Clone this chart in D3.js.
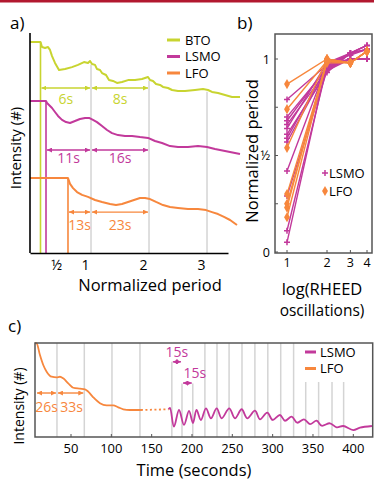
<!DOCTYPE html>
<html>
<head>
<meta charset="utf-8">
<script src="https://cdn.jsdelivr.net/npm/d3@7/dist/d3.min.js"></script>
<style>
  body { margin: 0; background: #fff; }
  svg { font-family: "Open Sans", sans-serif; display: block; }
</style>
</head>
<body>
<svg id="fig" width="374" height="481"></svg>
<script>
// ---- colours ----
var C_BTO = "#c8d430", C_LSMO = "#c2399b", C_LFO = "#f7873d", C_GRID = "#d4d4d4", C_BOX = "#555";

// ---- a) RHEED intensity vs normalized period ----
var btoPeriod    = [-0.052, 0.129, 0.155, 0.207, 0.259, 0.293, 0.328, 0.379, 0.448, 0.552, 0.672, 0.776, 0.879, 0.948, 0.983, 1.017, 1.069, 1.103, 1.155, 1.19, 1.259, 1.31, 1.379, 1.448, 1.534, 1.638, 1.759, 1.879, 1.983, 2.017, 2.069, 2.121, 2.19, 2.241, 2.328, 2.397, 2.5, 2.621, 2.793, 2.931, 3.017, 3.086, 3.19, 3.31, 3.431, 3.569];
var btoIntensity = [95.9, 95.9, 93.6, 93.2, 93.6, 92.3, 89.5, 86.4, 83.2, 83.6, 84.5, 85.5, 86.8, 86.4, 87.3, 85.9, 85.5, 83.6, 83.2, 81.8, 80.9, 78.6, 78.2, 77.3, 77.7, 78.6, 78.6, 79.1, 80.0, 78.6, 78.2, 76.8, 76.4, 75.5, 75.0, 74.1, 73.6, 73.6, 74.1, 74.5, 74.1, 73.2, 72.7, 71.8, 70.9, 70.9];
var lsmoPeriod    = [-0.052, 0.224, 0.241, 0.276, 0.328, 0.379, 0.431, 0.5, 0.569, 0.638, 0.724, 0.81, 0.897, 0.966, 1.034, 1.103, 1.19, 1.276, 1.362, 1.466, 1.586, 1.707, 1.845, 1.983, 2.103, 2.224, 2.362, 2.5, 2.672, 2.845, 3.0, 3.138, 3.31, 3.569];
var lsmoIntensity = [69.1, 69.1, 68.2, 67.3, 65.9, 64.1, 62.3, 60.5, 59.5, 59.1, 60.0, 60.9, 61.4, 61.4, 60.5, 59.5, 57.7, 55.9, 54.5, 53.6, 53.2, 53.2, 52.7, 52.3, 50.9, 50.0, 48.6, 48.2, 48.2, 48.6, 48.2, 47.3, 46.4, 45.0];
var lfoPeriod    = [-0.052, 0.603, 0.638, 0.69, 0.759, 0.845, 0.948, 1.069, 1.19, 1.328, 1.431, 1.534, 1.638, 1.741, 1.845, 1.931, 2.017, 2.121, 2.241, 2.362, 2.5, 2.672, 2.845, 2.983, 3.086, 3.19, 3.293, 3.397, 3.517];
var lfoIntensity = [34.1, 34.1, 31.4, 29.5, 27.7, 26.4, 25.5, 24.1, 23.2, 22.3, 21.8, 22.3, 23.2, 24.1, 25.0, 25.0, 24.5, 23.2, 21.8, 20.9, 20.5, 20.0, 20.0, 19.5, 18.6, 17.7, 16.4, 15.0, 12.7];

var materials    = ["BTO", "LSMO", "LFO"];
var startPeriod  = [0.129, 0.224, 0.603];    // shutter opened
var firstTimes   = ["6s", "11s", "13s"];
var secondTimes  = ["8s", "16s", "23s"];
var periodTicks  = [0.5, 1, 2, 3];
var periodLabels = ["½", "1", "2", "3"];

// ---- b) normalized period vs oscillation number ----
var oscNumber = [1, 2, 3, 4];
var lsmoOsc1 = [0.79, 0.70, 0.68, 0.66, 0.64, 0.61, 0.59, 0.57, 0.42, 0.29, 0.11, 0.05];
var lsmoOsc2 = [0.97, 0.95, 0.96, 0.94, 0.98, 0.93, 0.96, 0.95, 0.97, 0.94, 0.96, 0.98];
var lsmoOsc3 = [1.03, 1.00, 1.03, 1.00, 1.02, 1.03, 1.00, 1.03, 1.00, 1.03, 1.00, 1.03];
var lsmoOsc4 = [1.05, 1.00, 1.07, 1.00, 1.05, 1.07, 1.00, 1.05, 1.00, 1.07, 1.00, 1.05];
var lfoOsc1 = [0.87, 0.74, 0.54, 0.30, 0.25, 0.23, 0.18];
var lfoOsc2 = [1.00, 0.99, 1.00, 0.98, 0.99, 1.00, 0.99];
var lfoOsc3 = [0.98, 0.98, 0.98, 0.98, 0.98, 0.98, 0.98];
var lfoOsc4 = [1.04, 1.04, 1.04, 1.04, 1.04, 1.04, 1.04];
var normTicks  = [0, 0.25, 0.5, 0.75, 1];
var normLabels = ["0", "", "½", "", "1"];

// ---- c) intensity vs time ----
var lfoTime    = [5.3, 7.4, 11.5, 15.6, 19.8, 26.0, 32.2, 36.3, 40.4, 46.6, 52.8, 61.1, 67.3, 71.4, 77.6, 85.9, 94.2, 102.4, 108.6, 114.8, 123.1, 136.7];
var lfoSignal  = [100, 99.7, 87.2, 76.6, 69.5, 64.1, 63.5, 64.1, 62.4, 57.1, 52.4, 51.4, 50.7, 48.2, 42.2, 35.9, 33.7, 33.7, 31.6, 29.5, 28.7, 28.7];
var gapTime    = [136.7, 171];
var gapSignal  = [28.7, 29.5];
var lsmoTime   = [171, 172.7, 177.7, 183.9, 190.1, 196.3, 201.2, 205.6, 211.1, 217.3, 223.5, 230.6, 236.8, 246.2, 253.3, 261.6, 268.5, 278.1, 284.3, 293.3, 300.0, 309.1, 315.3, 323.6, 330.5, 338.8, 346.3, 354.6, 360.8, 371.1, 379.4, 387.6, 399.9, 408.3, 423.1];
var lsmoSignal = [29.5, 30.9, 11.0, 28.7, 12.8, 27.7, 14.9, 28.7, 18.1, 30.5, 19.9, 30.5, 19.9, 30.5, 19.9, 29.5, 19.9, 28.0, 18.8, 25.9, 18.1, 23.4, 17.3, 21.6, 15.2, 18.8, 13.8, 17.3, 12.0, 14.6, 10.3, 11.7, 7.4, 9.9, 11.7];
var lfoGridTime  = [32.6, 66.5, 100.8, 135.5];
var lsmoGridTime = [175, 187.6, 201, 216, 231, 246, 262, 278, 294, 310, 326, 341, 357, 373.6, 388];
var lsmoGridTop  = [80, 57, 57, 100, 100, 100, 100, 100, 100, 100, 100, 58.5, 58.5, 58.5, 58.5];
var timeTicks = [50, 100, 150, 200, 250, 300, 350, 400];

var svg = d3.select("#fig");
var defs = svg.append("defs");

function arrowHead(id, color) {
    defs.append("marker")
        .attr("id", id)
        .attr("viewBox", "0 0 10 10")
        .attr("refX", 10).attr("refY", 5)
        .attr("markerUnits", "userSpaceOnUse")
        .attr("markerWidth", 5).attr("markerHeight", 5)
        .attr("orient", "auto-start-reverse")
        .append("path").attr("d", "M0,0L10,5L0,10z").attr("fill", color);
}
var colors = [C_BTO, C_LSMO, C_LFO];
materials.forEach(function(m, i) { arrowHead("head-" + m, colors[i]); });

function doubleArrow(g, x0, x1, y, color, id) {
    g.append("line")
        .attr("x1", x0 + 1).attr("x2", x1 - 1)
        .attr("y1", y).attr("y2", y)
        .attr("stroke", color).attr("stroke-width", 1.4)
        .attr("marker-start", "url(#head-" + id + ")")
        .attr("marker-end", "url(#head-" + id + ")");
}

// top rule
svg.append("rect").attr("x", 0).attr("y", 0).attr("width", 374).attr("height", 2.5).attr("fill", "#b2182f");

// panel letters
svg.append("text").attr("x", 10).attr("y", 29).attr("font-size", 17).text("a)");
svg.append("text").attr("x", 237).attr("y", 29).attr("font-size", 17).text("b)");
svg.append("text").attr("x", 8).attr("y", 332).attr("font-size", 17).text("c)");

// ================= panel a =================
(function() {
    var g = svg.append("g");
    var x = d3.scaleLinear().domain([-0.052, 3.362]).range([30, 228]);
    var y = d3.scaleLinear().domain([0, 100]).range([253, 33]);
    var line = d3.line().x(function(d) { return x(d[0]); }).y(function(d) { return y(d[1]); });

    var bto = d3.zip(btoPeriod, btoIntensity);
    var series = [bto, d3.zip(lsmoPeriod, lsmoIntensity), d3.zip(lfoPeriod, lfoIntensity)];
    var topLevel = [btoIntensity[0], lsmoIntensity[0], lfoIntensity[0]];

    // grid lines hang from the BTO trace down to the axis
    var bis = d3.bisector(function(d) { return d[0]; }).left;
    [1, 2, 3].forEach(function(p) {
        var i = bis(bto, p), a = bto[i - 1], b = bto[i];
        var v = a[1] + (b[1] - a[1]) * (p - a[0]) / (b[0] - a[0]);
        g.append("line")
            .attr("x1", x(p)).attr("x2", x(p))
            .attr("y1", y(v) + 2).attr("y2", y(0))
            .attr("stroke", C_GRID).attr("stroke-width", 1.5);
    });

    // growth start markers
    startPeriod.forEach(function(p, i) {
        g.append("line")
            .attr("x1", x(p)).attr("x2", x(p))
            .attr("y1", y(topLevel[i])).attr("y2", y(0))
            .attr("stroke", colors[i]).attr("stroke-width", 1.6);
    });

    series.forEach(function(s, i) {
        g.append("path").datum(s)
            .attr("d", line)
            .attr("fill", "none")
            .attr("stroke", colors[i])
            .attr("stroke-width", 2)
            .attr("stroke-linejoin", "round");
    });

    // period annotations
    var arrowLevel = [75, 46.8, 18.6];
    var labelDrop = [16, 13, 18];
    materials.forEach(function(m, i) {
        var yy = y(arrowLevel[i]);
        doubleArrow(g, x(startPeriod[i]), x(1), yy, colors[i], m);
        doubleArrow(g, x(1), x(2), yy, colors[i], m);
        g.append("text").attr("x", (x(startPeriod[i]) + x(1)) / 2).attr("y", yy + labelDrop[i])
            .attr("text-anchor", "middle").attr("font-size", 14).attr("fill", colors[i]).text(firstTimes[i]);
        g.append("text").attr("x", (x(1) + x(2)) / 2).attr("y", yy + labelDrop[i])
            .attr("text-anchor", "middle").attr("font-size", 14).attr("fill", colors[i]).text(secondTimes[i]);
    });

    // axes
    var xAxis = d3.axisBottom(x).tickValues(periodTicks).tickSize(0).tickPadding(7)
        .tickFormat(function(d, i) { return periodLabels[i]; });
    var ax = g.append("g").attr("transform", "translate(0," + y(0) + ")").call(xAxis);
    ax.select(".domain").attr("stroke", "#000").attr("stroke-width", 1.6);
    ax.selectAll(".tick text").attr("font-size", 14).attr("font-family", "Open Sans").attr("fill", "#000").attr("dx", -6);
    g.append("line").attr("x1", 30).attr("x2", 30).attr("y1", y(100)).attr("y2", y(0))
        .attr("stroke", "#000").attr("stroke-width", 1.6);

    g.append("text").attr("x", 150).attr("y", 291).attr("text-anchor", "middle")
        .attr("font-size", 16.5).text("Normalized period");
    g.append("text").attr("transform", "translate(21,148) rotate(-90)").attr("text-anchor", "middle")
        .attr("font-size", 15).text("Intensity (#)");

    // legend
    materials.forEach(function(m, i) {
        var ly = 40 + i * 16.5;
        g.append("line").attr("x1", 167).attr("x2", 180).attr("y1", ly).attr("y2", ly)
            .attr("stroke", colors[i]).attr("stroke-width", 3);
        g.append("text").attr("x", 185).attr("y", ly + 4.5).attr("font-size", 13).text(m);
    });
})();

// ================= panel b =================
(function() {
    var g = svg.append("g");
    var x = d3.scaleLog().domain([1, 4]).range([287, 367]);
    var y = d3.scaleLinear().domain([0, 1]).range([252, 59]);
    var line = d3.line().x(function(d) { return x(d[0]); }).y(function(d) { return y(d[1]); });

    g.append("rect").attr("x", 275).attr("y", 34).attr("width", 97).attr("height", 219)
        .attr("fill", "none").attr("stroke", C_BOX).attr("stroke-width", 1.5);

    // ticks
    normTicks.forEach(function(v, i) {
        g.append("line").attr("x1", 275).attr("x2", 278).attr("y1", y(v)).attr("y2", y(v)).attr("stroke", C_BOX);
        g.append("text").attr("x", 270).attr("y", y(v) + 4.5).attr("text-anchor", "end")
            .attr("font-size", 12.5).text(normLabels[i]);
    });
    oscNumber.forEach(function(v) {
        g.append("line").attr("x1", x(v)).attr("x2", x(v)).attr("y1", 253).attr("y2", 250).attr("stroke", C_BOX);
        g.append("text").attr("x", x(v)).attr("y", 267).attr("text-anchor", "middle")
            .attr("font-size", 12.5).text(v);
    });

    var plus = "M-3,0H3M0,-3V3";
    var diamond = d3.symbol().type(d3.symbolDiamond).size(30)();

    function drawSet(o1, o2, o3, o4, color, isDiamond) {
        o1.forEach(function(v, i) {
            var pts = d3.zip(oscNumber, [v, o2[i], o3[i], o4[i]]);
            g.append("path").datum(pts).attr("d", line)
                .attr("fill", "none").attr("stroke", color).attr("stroke-width", 1.4);
            pts.forEach(function(p) {
                var m = g.append("path")
                    .attr("transform", "translate(" + x(p[0]) + "," + y(p[1]) + ")");
                if (isDiamond) m.attr("d", diamond).attr("fill", color);
                else m.attr("d", plus).attr("stroke", color).attr("stroke-width", 1.5).attr("fill", "none");
            });
        });
    }
    drawSet(lsmoOsc1, lsmoOsc2, lsmoOsc3, lsmoOsc4, C_LSMO, false);
    drawSet(lfoOsc1, lfoOsc2, lfoOsc3, lfoOsc4, C_LFO, true);

    // legend
    g.append("path").attr("d", plus).attr("transform", "translate(325,173)")
        .attr("stroke", C_LSMO).attr("stroke-width", 1.5);
    g.append("text").attr("x", 329).attr("y", 177.5).attr("font-size", 13).text("LSMO");
    g.append("path").attr("d", diamond).attr("transform", "translate(325,191)").attr("fill", C_LFO);
    g.append("text").attr("x", 329).attr("y", 195.5).attr("font-size", 13).text("LFO");

    g.append("text").attr("transform", "translate(258,151) rotate(-90)").attr("text-anchor", "middle")
        .attr("font-size", 16.5).text("Normalized period");
    g.append("text").attr("x", 322).attr("y", 295).attr("text-anchor", "middle")
        .attr("font-size", 16.5).text("log(RHEED");
    g.append("text").attr("x", 322).attr("y", 316).attr("text-anchor", "middle")
        .attr("font-size", 15.5).text("oscillations)");
})();

// ================= panel c =================
(function() {
    var g = svg.append("g");
    var x = d3.scaleLinear().domain([50, 400]).range([71, 353.3]);
    var y = d3.scaleLinear().domain([0, 100]).range([437, 343]);
    var curve = d3.line().curve(d3.curveMonotoneX)
        .x(function(d) { return x(d[0]); }).y(function(d) { return y(d[1]); });

    lfoGridTime.forEach(function(t) {
        g.append("line").attr("x1", x(t)).attr("x2", x(t)).attr("y1", y(100)).attr("y2", y(0))
            .attr("stroke", C_GRID).attr("stroke-width", 1.5);
    });
    lsmoGridTime.forEach(function(t, i) {
        g.append("line").attr("x1", x(t)).attr("x2", x(t)).attr("y1", y(lsmoGridTop[i])).attr("y2", y(0))
            .attr("stroke", C_GRID).attr("stroke-width", 1.5);
    });

    g.append("path").datum(d3.zip(lfoTime, lfoSignal)).attr("d", curve)
        .attr("fill", "none").attr("stroke", C_LFO).attr("stroke-width", 1.8);
    g.append("path").datum(d3.zip(gapTime, gapSignal)).attr("d", curve)
        .attr("fill", "none").attr("stroke", C_LFO).attr("stroke-width", 1.8).attr("stroke-dasharray", "2,2.5");
    g.append("path").datum(d3.zip(lsmoTime, lsmoSignal))
        .attr("d", d3.line().curve(d3.curveCatmullRom.alpha(0.5))
            .x(function(d) { return x(d[0]); }).y(function(d) { return y(d[1]); }))
        .attr("fill", "none").attr("stroke", C_LSMO).attr("stroke-width", 1.8);

    // period annotations
    var yl = y(46.8);
    doubleArrow(g, x(lfoGridTime[0] - 26), x(lfoGridTime[0]), yl, C_LFO, "LFO");
    doubleArrow(g, x(lfoGridTime[0]), x(lfoGridTime[1]), yl, C_LFO, "LFO");
    g.append("text").attr("x", x(lfoGridTime[0] - 13)).attr("y", yl + 19).attr("text-anchor", "middle")
        .attr("font-size", 14).attr("fill", C_LFO).text("26s");
    g.append("text").attr("x", (x(lfoGridTime[0]) + x(lfoGridTime[1])) / 2 + 1).attr("y", yl + 19).attr("text-anchor", "middle")
        .attr("font-size", 14).attr("fill", C_LFO).text("33s");

    var ya = y(80), yb = y(57.4);
    doubleArrow(g, x(lsmoGridTime[0]), x(lsmoGridTime[1]), ya, C_LSMO, "LSMO");
    doubleArrow(g, x(lsmoGridTime[1]), x(lsmoGridTime[2]), yb, C_LSMO, "LSMO");
    g.append("text").attr("x", (x(lsmoGridTime[0]) + x(lsmoGridTime[1])) / 2).attr("y", ya - 5)
        .attr("text-anchor", "middle").attr("font-size", 14).attr("fill", C_LSMO).text("15s");
    g.append("text").attr("x", x(lsmoGridTime[2]) + 2).attr("y", yb - 5)
        .attr("text-anchor", "middle").attr("font-size", 14).attr("fill", C_LSMO).text("15s");

    // frame and axis
    g.append("rect").attr("x", 35).attr("y", 343).attr("width", 337.7).attr("height", 94)
        .attr("fill", "none").attr("stroke", C_BOX).attr("stroke-width", 1.5);
    timeTicks.forEach(function(t) {
        g.append("line").attr("x1", x(t)).attr("x2", x(t)).attr("y1", 437).attr("y2", 434).attr("stroke", C_BOX);
        g.append("text").attr("x", x(t)).attr("y", 453).attr("text-anchor", "middle")
            .attr("font-size", 13).text(t);
    });

    g.append("text").attr("x", 194).attr("y", 476).attr("text-anchor", "middle")
        .attr("font-size", 16.5).text("Time (seconds)");
    g.append("text").attr("transform", "translate(24,406) rotate(-90)").attr("text-anchor", "middle")
        .attr("font-size", 14).text("Intensity (#)");

    // legend
    [["LSMO", C_LSMO], ["LFO", C_LFO]].forEach(function(d, i) {
        var ly = 352 + i * 16.5;
        g.append("line").attr("x1", 305).attr("x2", 316).attr("y1", ly).attr("y2", ly)
            .attr("stroke", d[1]).attr("stroke-width", 3);
        g.append("text").attr("x", 320).attr("y", ly + 4.5).attr("font-size", 13).text(d[0]);
    });
})();
</script>
</body>
</html>
